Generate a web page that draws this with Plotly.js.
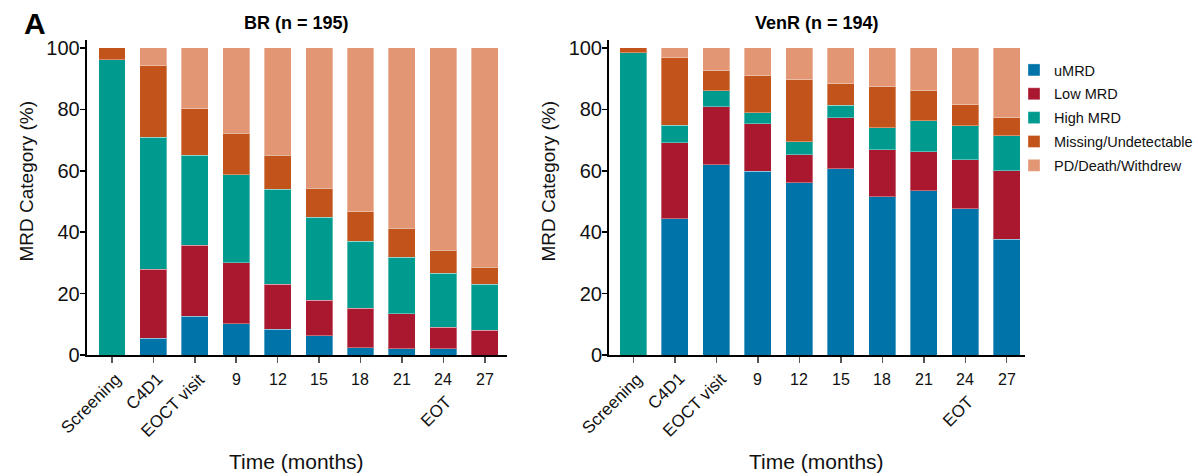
<!DOCTYPE html>
<html>
<head>
<meta charset="utf-8">
<script src="https://cdn.plot.ly/plotly-3.0.1.min.js"></script>
<style>html,body{margin:0;padding:0;background:#fff}#chart{width:1198px;height:476px}</style>
</head>
<body>
<div id="chart"></div>
<script>
// ---- data ----
var categories = ['Screening','C4D1','EOCT visit','9','12','15','18','21','24','27'];
var seriesNames = ['uMRD','Low MRD','High MRD','Missing/Undetectable','PD/Death/Withdrew'];

var umrdBR = [0, 5.5, 12.7, 10.1, 8.4, 6.2, 2.3, 2.0, 2.0, 0];
var lowBR  = [0, 22.4, 23.0, 19.9, 14.6, 11.7, 13.0, 11.4, 7.1, 8.1];
var highBR = [96.1, 43.0, 29.4, 28.7, 31.0, 26.9, 21.7, 18.4, 17.5, 14.9];
var missBR = [3.9, 23.3, 15.1, 13.5, 11.0, 9.5, 9.7, 9.5, 7.5, 5.6];
var pdBR   = [0, 5.8, 19.8, 27.8, 35.0, 45.7, 53.3, 58.7, 65.9, 71.4];

var umrdVR = [0, 44.4, 62.0, 59.8, 56.1, 60.7, 51.6, 53.5, 47.7, 37.7];
var lowVR  = [0, 24.8, 18.9, 15.5, 9.1, 16.6, 15.3, 12.7, 15.9, 22.3];
var highVR = [98.5, 5.6, 5.2, 3.6, 4.3, 4.1, 7.1, 10.1, 11.1, 11.4];
var missVR = [1.5, 22.0, 6.5, 12.1, 20.2, 7.0, 13.4, 9.8, 6.8, 5.9];
var pdVR   = [0, 3.2, 7.4, 9.0, 10.3, 11.6, 12.6, 13.9, 18.5, 22.7];

var rotatedLabels = ['Screening','C4D1','EOCT visit'];
var plainLabels = ['9','12','15','18','21','24','27'];
var extraLabel = {text: 'EOT', at: '24'};
var yTicks = [0,20,40,60,80,100];
var panelTitles = ['BR (n = 195)', 'VenR (n = 194)'];
var xTitle = 'Time (months)';
var yTitle = 'MRD Category (%)';

// ---- style ----
var colors = ['#0074a8','#a9182f','#009a8f','#c2531b','#e39673'];
var font = '"Liberation Sans", Arial, sans-serif';
var W = 1198, H = 476;
function px(x){ return x / W; }
function py(y){ return 1 - y / H; }

var dataBR = [umrdBR, lowBR, highBR, missBR, pdBR];
var dataVR = [umrdVR, lowVR, highVR, missVR, pdVR];

var traces = [];
seriesNames.forEach(function(n, i){
  traces.push({type:'bar', name:n, x:categories, y:dataBR[i], xaxis:'x', yaxis:'y',
    marker:{color:colors[i], line:{color:'rgba(255,255,255,0.35)', width:1}},
    width:0.65, legendgroup:'g'+i, showlegend:true, hoverinfo:'skip'});
});
seriesNames.forEach(function(n, i){
  traces.push({type:'bar', name:n, x:categories, y:dataVR[i], xaxis:'x2', yaxis:'y2',
    marker:{color:colors[i], line:{color:'rgba(255,255,255,0.35)', width:1}},
    width:0.65, legendgroup:'g'+i, showlegend:false, hoverinfo:'skip'});
});

var domainsX = [[px(86.7), px(506.7)], [px(609), px(1025)]];
function xax(domain, range, anchor){
  return {domain:domain, type:'category', categoryorder:'array', categoryarray:categories,
    range:range, showticklabels:false, ticks:'outside', ticklen:6, tickwidth:1.5, tickcolor:'#555',
    showline:true, linecolor:'#000', linewidth:2, showgrid:false, zeroline:false, anchor:anchor,
    automargin:false, fixedrange:true};
}
function yax(anchor){
  return {domain:[py(355), py(40)], range:[0,102.6], tickvals:yTicks, ticks:'outside', ticklen:5,
    tickwidth:1.5, tickcolor:'#000', showline:true, linecolor:'#000', linewidth:2,
    showgrid:false, zeroline:false, anchor:anchor, automargin:false, ticklabelstandoff:-4,
    tickfont:{family:font, size:20, color:'#111'}};
}

var annotations = [];
annotations.push({text:'<b>A</b>', xref:'paper', yref:'paper', x:px(22), y:py(5),
  xanchor:'left', yanchor:'top', showarrow:false, font:{family:font, size:30, color:'#000'}});
var panelX = ['x','x2'];
var yTitleX = [26, 548];
panelTitles.forEach(function(t, p){
  var cx = (domainsX[p][0]+domainsX[p][1])/2;
  annotations.push({text:'<b>'+t+'</b>', xref:'paper', yref:'paper',
    x:cx, y:py(23), xanchor:'center', yanchor:'middle',
    showarrow:false, font:{family:font, size:18, color:'#000'}});
  annotations.push({text:xTitle, xref:'paper', yref:'paper',
    x:cx, y:py(461), xanchor:'center', yanchor:'middle',
    showarrow:false, font:{family:font, size:21, color:'#111'}});
  annotations.push({text:yTitle, xref:'paper', yref:'paper', x:px(yTitleX[p]), y:py(181.5),
    xanchor:'center', yanchor:'middle', textangle:-90, showarrow:false,
    font:{family:font, size:19, color:'#111'}});
  rotatedLabels.forEach(function(l){
    annotations.push({text:l, xref:panelX[p], yref:'paper', x:categories.indexOf(l), y:py(367),
      xshift:16, xanchor:'right', yanchor:'top', textangle:-45, showarrow:false,
      font:{family:font, size:17, color:'#111'}});
  });
  plainLabels.forEach(function(l){
    annotations.push({text:l, xref:panelX[p], yref:'paper', x:categories.indexOf(l), y:py(379),
      xanchor:'center', yanchor:'middle', showarrow:false,
      font:{family:font, size:16, color:'#111'}});
  });
  annotations.push({text:extraLabel.text, xref:panelX[p], yref:'paper',
    x:categories.indexOf(extraLabel.at), y:py(390), xshift:15, xanchor:'right', yanchor:'top',
    textangle:-45, showarrow:false, font:{family:font, size:17, color:'#111'}});
});

var layout = {
  width:W, height:H, margin:{l:0,r:0,t:0,b:0,autoexpand:false},
  paper_bgcolor:'#fff', plot_bgcolor:'#fff', barmode:'stack', bargap:0.35,
  xaxis: xax(domainsX[0], [-0.61, 9.53], 'y'),
  yaxis: yax('x'),
  xaxis2: xax(domainsX[1], [-0.585, 9.44], 'y2'),
  yaxis2: yax('x2'),
  legend:{x:1, y:py(54), xanchor:'right', yanchor:'top', traceorder:'grouped',
    tracegroupgap:2, font:{family:font, size:14.5, color:'#111'}, bgcolor:'rgba(0,0,0,0)'},
  annotations: annotations,
  showlegend:true
};

Plotly.newPlot('chart', traces, layout, {displayModeBar:false, staticPlot:true});
</script>
</body>
</html>
